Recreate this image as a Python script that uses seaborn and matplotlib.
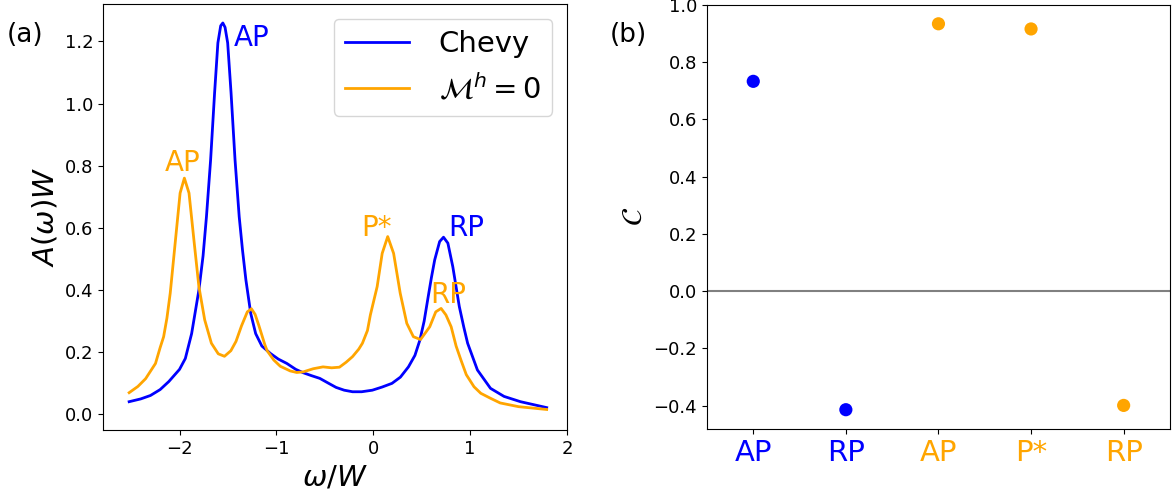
import matplotlib
matplotlib.use("Agg")
import matplotlib.pyplot as plt
import numpy as np
import pandas as pd
import seaborn as sns

# (a) spectral function
w_chevy = [-2.52, -2.40, -2.30, -2.20, -2.11, -2.0, -1.94, -1.875, -1.80, -1.757, -1.722,
           -1.679, -1.638, -1.604, -1.575, -1.553, -1.53, -1.503, -1.468, -1.427, -1.384,
           -1.35, -1.315, -1.265, -1.214, -1.15, -1.061, -0.98, -0.892, -0.80, -0.722,
           -0.64, -0.552, -0.46, -0.384, -0.30, -0.214, -0.12, -0.01, 0.09, 0.193, 0.28,
           0.363, 0.43, 0.481, 0.525, 0.567, 0.60, 0.634, 0.685, 0.725, 0.77, 0.821,
           0.888, 0.935, 0.974, 1.075, 1.21, 1.35, 1.52, 1.79]
A_chevy = [0.041, 0.050, 0.061, 0.080, 0.106, 0.145, 0.18, 0.26, 0.40, 0.51, 0.636,
           0.819, 1.034, 1.195, 1.25, 1.259, 1.245, 1.195, 1.034, 0.819, 0.636,
           0.529, 0.433, 0.325, 0.26, 0.22, 0.196, 0.178, 0.164, 0.145, 0.134,
           0.125, 0.116, 0.10, 0.087, 0.078, 0.073, 0.073, 0.078, 0.088, 0.10, 0.12,
           0.153, 0.19, 0.239, 0.30, 0.379, 0.44, 0.497, 0.556, 0.57, 0.551, 0.475,
           0.347, 0.28, 0.229, 0.143, 0.084, 0.058, 0.041, 0.022]

w_mh0 = [-2.52, -2.43, -2.35, -2.248, -2.20, -2.164, -2.13, -2.096, -2.045, -1.994, -1.95,
         -1.902, -1.848, -1.80, -1.74, -1.671, -1.60, -1.536, -1.47, -1.417, -1.36, -1.30,
         -1.258, -1.22, -1.18, -1.12, -1.096, -1.027, -0.96, -0.858, -0.79, -0.722, -0.62,
         -0.519, -0.43, -0.349, -0.28, -0.214, -0.15, -0.112, -0.06, -0.03, 0.04, 0.092,
         0.149, 0.21, 0.278, 0.346, 0.414, 0.488, 0.583, 0.645, 0.70, 0.75, 0.804, 0.855,
         0.905, 0.96, 1.04, 1.11, 1.21, 1.31, 1.50, 1.79]
A_mh0 = [0.07, 0.09, 0.115, 0.164, 0.215, 0.25, 0.31, 0.39, 0.551, 0.712, 0.76,
         0.712, 0.551, 0.411, 0.304, 0.229, 0.195, 0.187, 0.205, 0.235, 0.285, 0.33,
         0.34, 0.322, 0.285, 0.225, 0.205, 0.175, 0.155, 0.14, 0.135, 0.137, 0.147,
         0.153, 0.15, 0.152, 0.168, 0.186, 0.21, 0.229, 0.27, 0.32, 0.411, 0.518,
         0.572, 0.518, 0.39, 0.293, 0.25, 0.241, 0.282, 0.33, 0.341, 0.32, 0.282, 0.22,
         0.175, 0.128, 0.089, 0.068, 0.052, 0.037, 0.025, 0.016]

# (b) overlap C for each peak
peak_labels = ["AP", "RP", "AP", "P*", "RP"]
peak_method = ["Chevy", "Chevy", "Mh0", "Mh0", "Mh0"]
C_values = [0.733, -0.414, 0.934, 0.916, -0.399]

colors = {"Chevy": "blue", "Mh0": "orange"}

plt.rcParams["xtick.labelsize"] = 13
plt.rcParams["ytick.labelsize"] = 13

fig = plt.figure(figsize=(11.73, 5.0), dpi=100)
ax1 = fig.add_axes([0.0878, 0.14, 0.3956, 0.852])
ax2 = fig.add_axes([0.6027, 0.142, 0.3947, 0.849])

sns.lineplot(x=w_chevy, y=A_chevy, ax=ax1, color="blue", lw=2, label="Chevy")
sns.lineplot(x=w_mh0, y=A_mh0, ax=ax1, color="orange", lw=2, label=r"$\mathcal{M}^h=0$")
ax1.set_xlim(-2.79, 2.0)
ax1.set_ylim(-0.05, 1.32)
ax1.set_xticks([-2, -1, 0, 1, 2])
ax1.set_xlabel(r"$\omega/W$", fontsize=21)
ax1.set_ylabel(r"$A(\omega)W$", fontsize=21)
ax1.legend(loc="upper right", fontsize=21, handlelength=2.2, handletextpad=1.0)

ax1.text(-1.44, 1.21, "AP", color="blue", fontsize=20, va="center")
ax1.text(-2.15, 0.81, "AP", color="orange", fontsize=20, va="center")
ax1.text(-0.12, 0.60, "P*", color="orange", fontsize=20, va="center")
ax1.text(0.77, 0.60, "RP", color="blue", fontsize=20, va="center")
ax1.text(0.59, 0.385, "RP", color="orange", fontsize=20, va="center")

df = pd.DataFrame({"pos": range(len(C_values)), "C": C_values, "method": peak_method})
ax2.axhline(0, color="grey", lw=1.5)
sns.scatterplot(data=df, x="pos", y="C", hue="method", palette=colors, s=90,
                edgecolor="none", legend=False, ax=ax2)
ax2.set_xlim(-0.5, len(C_values) - 0.5)
ax2.set_xticks(range(len(C_values)))
ax2.set_xticklabels(peak_labels, fontsize=21)
for lab, m in zip(ax2.get_xticklabels(), peak_method):
    lab.set_color(colors[m])
ax2.set_xlabel("")
ax2.set_ylabel(r"$\mathcal{C}$", fontsize=21)

fig.text(0.006, 0.915, "(a)", fontsize=19)
fig.text(0.52, 0.915, "(b)", fontsize=19)

fig.savefig("out.png", dpi=100)
